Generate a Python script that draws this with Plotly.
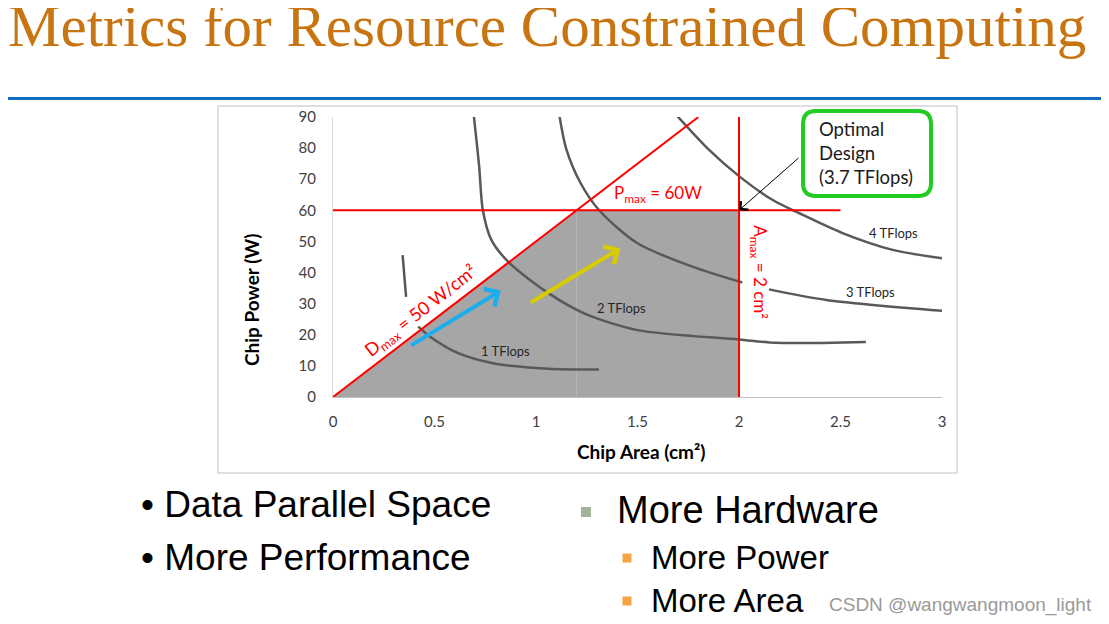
import plotly.graph_objects as go

# ---------------- data ----------------
x_ticks = [0, 0.5, 1, 1.5, 2, 2.5, 3]
x_tick_labels = ["0", "0.5", "1", "1.5", "2", "2.5", "3"]
y_ticks = [0, 10, 20, 30, 40, 50, 60, 70, 80, 90]

# feasible region (density, power and area limits)
region_x = [0, 1.2, 2.0, 2.0, 0]
region_y = [0, 60, 60, 0, 0]

dmax_x = [0, 1.8]
dmax_y = [0, 90]
pmax_x = [0, 2.5]
pmax_y = [60, 60]
amax_x = [2, 2]
amax_y = [0, 90]
faint_x = [1.2, 1.2]
faint_y = [0, 60]

# iso-performance curves
tf1_x = [0.343, 0.36, None, 0.42, 0.48, 0.62, 0.80, 1.06, 1.31]
tf1_y = [45.6, 32.2, None, 22.6, 19.3, 14.0, 10.7, 9.1, 8.8]
tf2_x = [0.694, 0.72, 0.738, 0.78, 0.87, 1.063, 1.24, 1.50, 2.0, 2.18, 2.625]
tf2_y = [90.2, 74.1, 60.1, 50.5, 43.0, 33.3, 26.8, 21.5, 18.5, 17.4, 17.7]
tf3_x = [1.116, 1.15, 1.22, 1.31, 1.50, 1.77, 2.016, None, 2.148, 2.43, 3.0]
tf3_y = [90.2, 79.5, 68.7, 60.1, 49.4, 41.9, 36.8, None, 34.6, 31.2, 27.7]
tf4_x = [1.696, 1.85, 2.0, 2.164, 2.296, 2.51, 2.757, 3.0]
tf4_y = [90.3, 79.6, 71.0, 63.4, 59.1, 52.7, 47.3, 44.6]

curve_labels = ["1 TFlops", "2 TFlops", "3 TFlops", "4 TFlops"]
curve_label_x = [0.85, 1.42, 2.65, 2.76]
curve_label_y = [14.8, 28.5, 33.7, 52.7]

blue_arrow = [(0.378, 16.3), (0.826, 34.2)]
yellow_arrow = [(0.967, 30.1), (1.415, 47.8)]
optimal_point = (2.0, 60.0)
optimal_tail = (2.30, 77.2)

title_text = "Metrics for Resource Constrained Computing"
left_bullets = ["• Data Parallel Space", "• More Performance"]
right_main = "More Hardware"
right_sub = ["More Power", "More Area"]
watermark = "CSDN @wangwangmoon_light"

# ---------------- layout helpers ----------------
OFF = 8                      # page body margin
PAGE_W, PAGE_H = 1109, 624
W, H = PAGE_W - OFF, PAGE_H - OFF
L, R, T, B = 333, 942, 117, 397  # plot area in page pixels
PW, PH = R - L, B - T


def px(xp):
    return (xp - L) / PW


def py(yp):
    return (B - yp) / PH


RED = "#FF0000"
CURVE = "#595959"
CHART_FONT = "Lato, Carlito, sans-serif"

fig = go.Figure()

fig.add_trace(go.Scatter(x=region_x, y=region_y, fill="toself", fillcolor="#A6A6A6",
                         line=dict(width=0), mode="lines", hoverinfo="skip"))
fig.add_trace(go.Scatter(x=faint_x, y=faint_y, mode="lines",
                         line=dict(color="#B4B4B4", width=1), hoverinfo="skip"))
for cx, cy in [(tf1_x, tf1_y), (tf2_x, tf2_y), (tf3_x, tf3_y), (tf4_x, tf4_y)]:
    fig.add_trace(go.Scatter(x=cx, y=cy, mode="lines",
                             line=dict(color=CURVE, width=2.5, shape="spline", smoothing=0.8),
                             connectgaps=False, hoverinfo="skip"))
for lx, ly in [(dmax_x, dmax_y), (pmax_x, pmax_y), (amax_x, amax_y)]:
    fig.add_trace(go.Scatter(x=lx, y=ly, mode="lines", line=dict(color=RED, width=2),
                             hoverinfo="skip"))

ann = []
for t, lx, ly in zip(curve_labels, curve_label_x, curve_label_y):
    ann.append(dict(x=lx, y=ly, xref="x", yref="y", text=t, showarrow=False,
                    xanchor="center", yanchor="middle",
                    font=dict(family=CHART_FONT, size=13, color="#262626")))

ann.append(dict(x=0.432, y=27.6, xref="x", yref="y", xanchor="center", yanchor="middle",
                text="D<sub>max</sub> = 50 W/cm²", textangle=-38, showarrow=False,
                font=dict(family=CHART_FONT, size=18, color=RED)))
ann.append(dict(x=1.60, y=65.3, xref="x", yref="y", xanchor="center", yanchor="middle",
                text="P<sub>max</sub> = 60W", showarrow=False,
                font=dict(family=CHART_FONT, size=17, color=RED)))
ann.append(dict(x=2.10, y=40, xref="x", yref="y", xanchor="center", yanchor="middle",
                text="A<sub>max</sub> = 2 cm²", textangle=90, showarrow=False,
                font=dict(family=CHART_FONT, size=17, color=RED)))

for (x0, y0), (x1, y1), col in [(blue_arrow[0], blue_arrow[1], "#1CAEEC"),
                                 (yellow_arrow[0], yellow_arrow[1], "#D8CC00")]:
    ann.append(dict(x=x1, y=y1, ax=x0, ay=y0, xref="x", yref="y", axref="x", ayref="y",
                    text="", showarrow=True, arrowhead=4, arrowsize=1.0,
                    arrowwidth=4, arrowcolor=col))

ann.append(dict(x=optimal_point[0], y=optimal_point[1], ax=optimal_tail[0], ay=optimal_tail[1],
                xref="x", yref="y", axref="x", ayref="y", text="", showarrow=True,
                arrowhead=4, arrowsize=2.2, arrowwidth=1, arrowcolor="black"))

ann.append(dict(x=px(817), y=py(153), xref="paper", yref="paper", xanchor="left",
                yanchor="middle", align="left", showarrow=False,
                text="Optimal<br>Design<br>(3.7 TFlops)",
                font=dict(family=CHART_FONT, size=18.5, color="#1a1a1a")))

# axis titles
ann.append(dict(x=px(641), y=py(451), xref="paper", yref="paper", showarrow=False,
                xanchor="center", yanchor="middle",
                text="<b>Chip Area (cm²)</b>",
                font=dict(family=CHART_FONT, size=19, color="black")))
ann.append(dict(x=px(251), y=py(300), xref="paper", yref="paper", showarrow=False,
                xanchor="center", yanchor="middle",
                text="<b>Chip Power (W)</b>", textangle=-90,
                font=dict(family=CHART_FONT, size=19, color="black")))

# slide title
ann.append(dict(x=px(6), y=py(26), xref="paper", yref="paper", xanchor="left",
                yanchor="middle", showarrow=False, text=title_text,
                font=dict(family="Liberation Serif, Times New Roman, serif", size=59,
                          color="#C87410")))

# bullets
SANS = "Liberation Sans, Arial, sans-serif"
for t, yc in zip(left_bullets, [504, 557]):
    ann.append(dict(x=px(139), y=py(yc), xref="paper", yref="paper", xanchor="left",
                    yanchor="middle", showarrow=False, text=t,
                    font=dict(family=SANS, size=37, color="black")))
ann.append(dict(x=px(615), y=py(510), xref="paper", yref="paper", xanchor="left",
                yanchor="middle", showarrow=False, text=right_main,
                font=dict(family=SANS, size=38, color="black")))
for t, yc in zip(right_sub, [557, 600]):
    ann.append(dict(x=px(649), y=py(yc), xref="paper", yref="paper", xanchor="left",
                    yanchor="middle", showarrow=False, text=t,
                    font=dict(family=SANS, size=33, color="black")))
ann.append(dict(x=px(1094), y=py(605), xref="paper", yref="paper", xanchor="right",
                yanchor="middle", showarrow=False, text=watermark,
                font=dict(family="Liberation Sans Narrow, Liberation Sans, sans-serif",
                          size=19, color="#9a9a9a")))

shapes = []
# blue rule under title
shapes.append(dict(type="line", xref="paper", yref="paper", x0=px(0), x1=px(PAGE_W),
                   y0=py(98.5), y1=py(98.5), line=dict(color="#0F6CC0", width=3)))
# chart frame
shapes.append(dict(type="rect", xref="paper", yref="paper", x0=px(218), x1=px(957),
                   y0=py(106), y1=py(473), line=dict(color="#C0C0C0", width=1)))
# green rounded box
bx0, bx1, by0, by1, r = 803, 931, 111, 196, 13
path = (f"M {px(bx0 + r)},{py(by0)} L {px(bx1 - r)},{py(by0)} "
        f"Q {px(bx1)},{py(by0)} {px(bx1)},{py(by0 + r)} "
        f"L {px(bx1)},{py(by1 - r)} Q {px(bx1)},{py(by1)} {px(bx1 - r)},{py(by1)} "
        f"L {px(bx0 + r)},{py(by1)} Q {px(bx0)},{py(by1)} {px(bx0)},{py(by1 - r)} "
        f"L {px(bx0)},{py(by0 + r)} Q {px(bx0)},{py(by0)} {px(bx0 + r)},{py(by0)} Z")
shapes.append(dict(type="path", xref="paper", yref="paper", path=path,
                   line=dict(color="#22CC22", width=4), fillcolor="white"))
# bullet squares
for cx, cy, s, col in [(586, 512, 10, "#A3B39A"), (627, 558, 9, "#F5A444"),
                       (627, 601, 9, "#F5A444")]:
    shapes.append(dict(type="rect", xref="paper", yref="paper",
                       x0=px(cx - s / 2), x1=px(cx + s / 2), y0=py(cy - s / 2), y1=py(cy + s / 2),
                       line=dict(width=0), fillcolor=col))

fig.update_layout(
    width=W, height=H,
    margin=dict(l=L - OFF, r=PAGE_W - R, t=T - OFF, b=PAGE_H - B, pad=0),
    paper_bgcolor="white", plot_bgcolor="white",
    showlegend=False,
    annotations=ann, shapes=shapes,
    xaxis=dict(range=[0, 3], tickvals=x_ticks, ticktext=x_tick_labels, showgrid=False,
               zeroline=False, showline=True, linecolor="#BFBFBF", linewidth=1,
               ticks="", ticklabelstandoff=11,
               tickfont=dict(family=CHART_FONT, size=15, color="#404040")),
    yaxis=dict(range=[0, 90], tickvals=y_ticks, showgrid=False, zeroline=False,
               showline=True, linecolor="#D9D9D9", linewidth=1, ticks="",
               ticklabelstandoff=13,
               tickfont=dict(family=CHART_FONT, size=15, color="#404040")),
)

fig.write_html("out.html")
